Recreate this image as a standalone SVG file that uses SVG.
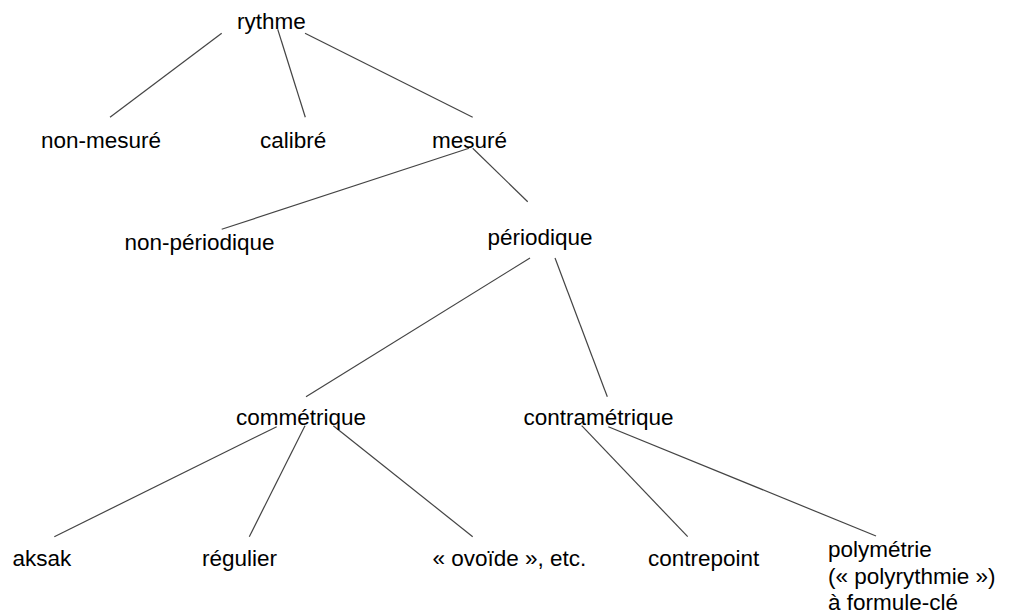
<svg xmlns="http://www.w3.org/2000/svg" width="1025" height="614" viewBox="0 0 1025 614">
<style>
text{font-family:"Liberation Sans",Arial,sans-serif;font-size:22.5px;fill:#000}
.c line{stroke:#444;stroke-width:1.2}
</style>
<rect width="1025" height="614" fill="#fff"/>
<g class="c" id="connectors">
<line x1="221.7" y1="33.3" x2="110" y2="117.3"/>
<line x1="277.7" y1="29.3" x2="305.3" y2="117.3"/>
<line x1="305" y1="33.3" x2="472.7" y2="117.3"/>
<line x1="469" y1="148.3" x2="221.7" y2="229.3"/>
<line x1="472.7" y1="148.3" x2="527.7" y2="201.7"/>
<line x1="530" y1="258" x2="306" y2="396.7"/>
<line x1="555" y1="258" x2="607.3" y2="396.7"/>
<line x1="276.7" y1="426.7" x2="54.3" y2="536.7"/>
<line x1="305" y1="425.7" x2="249.3" y2="536.7"/>
<line x1="333.3" y1="425.7" x2="472.7" y2="536.7"/>
<line x1="581.7" y1="425.7" x2="687.7" y2="536.7"/>
<line x1="608.3" y1="426.7" x2="876" y2="536"/>
</g>
<g id="n-rythme"><text x="237" y="28.5">rythme</text></g>
<g id="n-nonmesure"><text x="41" y="148">non-mesuré</text></g>
<g id="n-calibre"><text x="260" y="148">calibré</text></g>
<g id="n-mesure"><text x="432" y="148">mesuré</text></g>
<g id="n-nonperiodique"><text x="124.5" y="249.5">non-périodique</text></g>
<g id="n-periodique"><text x="487.5" y="245">périodique</text></g>
<g id="n-commetrique"><text x="236" y="425">commétrique</text></g>
<g id="n-contrametrique"><text x="523.5" y="425">contramétrique</text></g>
<g id="n-aksak"><text x="12.5" y="565.5">aksak</text></g>
<g id="n-regulier"><text x="202" y="565.5">régulier</text></g>
<g id="n-ovoide"><text x="432.5" y="565.5">« ovoïde », etc.</text></g>
<g id="n-contrepoint"><text x="648" y="565.5">contrepoint</text></g>
<g id="n-polymetrie"><text x="828" y="557">polymétrie</text><text x="828" y="583.5">(« polyrythmie »)</text><text x="828" y="610">à formule-clé</text></g>
</svg>
